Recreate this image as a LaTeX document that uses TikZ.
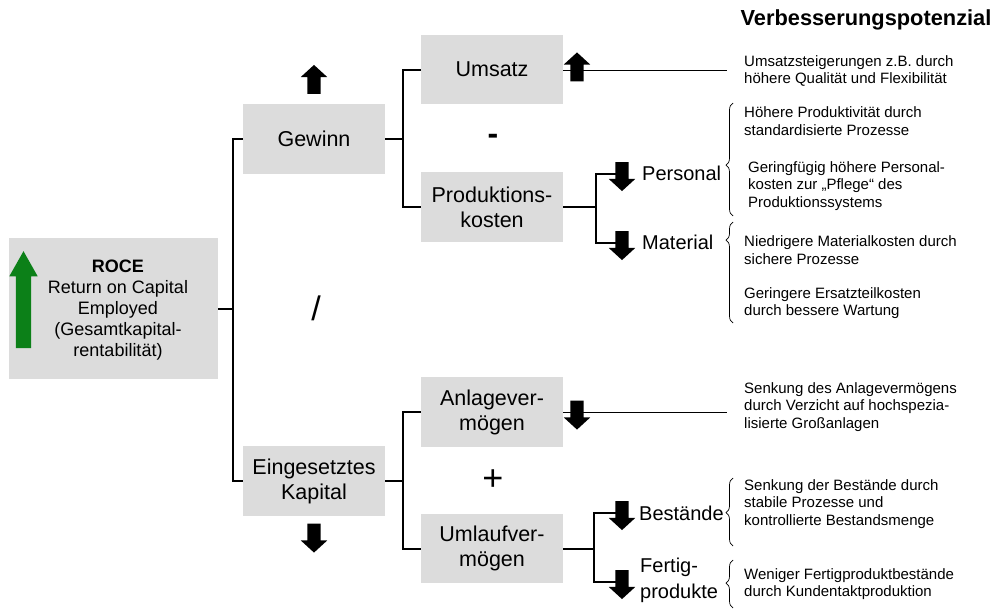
\documentclass[tikz,border=0pt]{standalone}
\usepackage{fontspec}
\setmainfont{Liberation Sans}
\usetikzlibrary{shapes.arrows,decorations.pathreplacing}
\definecolor{boxgray}{RGB}{220,220,220}
\definecolor{roceGreen}{RGB}{12,128,24}
\newcommand\fs[2]{\fontsize{#1}{#2}\selectfont}
\begin{document}
\begin{tikzpicture}[x=1pt,y=-1pt,
 box/.style={fill=boxgray, draw=none, inner sep=0pt, align=center, font=\fs{21.5}{25}, minimum width=142pt, minimum height=70pt},
 conn/.style={line width=2pt},
 thinline/.style={line width=1pt},
 blk/.style={single arrow, fill=black, draw=none, inner xsep=0pt, inner ysep=6.5pt, single arrow head extend=6.5pt, single arrow tip angle=95, minimum height=29pt},
 uparr/.style={blk, rotate=90},
 dnarr/.style={blk, rotate=-90},
 lbl/.style={anchor=west, inner sep=0pt, font=\fs{20}{26}, align=left},
 note/.style={anchor=west, inner sep=0pt, font=\fs{15}{17.5}, align=left},
 brc/.style={decorate, decoration={brace, amplitude=7pt, aspect=#1}, line width=0.7pt},
]
\useasboundingbox (0,0) rectangle (998,608);

% boxes
\node[fill=boxgray, minimum width=209pt, minimum height=141pt, inner sep=0pt] (roce) at (113.5,308.5) {};
\node[font=\fs{18}{20.8}, align=center, inner sep=0pt] (rocetxt) at (118,310) {\textbf{ROCE}\\Return on Capital\\Employed\\(Gesamtkapital-\\rentabilität)};
\node[single arrow, fill=roceGreen, draw=none, rotate=90, inner xsep=0pt, inner ysep=7.5pt, single arrow head extend=6.5pt, single arrow tip angle=59, minimum height=97pt] (garr) at (23.5,306.5) {};

\node[box] (gewinn) at (314,139) {Gewinn};
\node[box] (kapital) at (314,481) {Eingesetztes\\Kapital};
\node[box, minimum height=69pt] (umsatz) at (492,69.5) {Umsatz};
\node[box] (prod) at (492,207) {Produktions-\\kosten};
\node[box] (anlage) at (492,412) {Anlagever-\\mögen};
\node[box, minimum height=69pt] (umlauf) at (492,548.5) {Umlaufver-\\mögen};

% operators
\node[font=\bfseries\fs{32}{32}, inner sep=0pt] (minus) at (493,139) {-};
\node[font=\fs{34}{34}, inner sep=0pt] (slash) at (316,308) {/};
\node[font=\fs{36}{36}, inner sep=0pt] (plus) at (493,480) {+};

% junction coordinates
\coordinate (j0) at (233,308.5);
\coordinate (g1) at (403,139);
\coordinate (k1) at (403,481);
\coordinate (p1) at (596,207);
\coordinate (u1) at (594,548.5);
\coordinate (ua) at (577,70);
\coordinate (aa) at (577,412);
\coordinate (pa) at (622,173.5);
\coordinate (ma) at (622,242.5);
\coordinate (ba) at (622,512.5);
\coordinate (fa) at (622,581.5);
\coordinate (ue) at (727,70);
\coordinate (ae) at (727,412);

% connectors
\draw[conn] (roce.east) -- (j0);
\draw[conn] (gewinn.west) -- ++(-10,0) |- (kapital.west);
\draw[conn] (gewinn.east) -- (g1);
\draw[conn] (umsatz.west) -- ++(-18,0) |- (prod.west);
\draw[conn] (kapital.east) -- (k1);
\draw[conn] (anlage.west) -- ++(-18,0) |- (umlauf.west);
\draw[conn] (prod.east) -- (p1);
\draw[conn] (pa) -- (596,173.5) |- (ma);
\draw[conn] (umlauf.east) -- (u1);
\draw[conn] (ba) -- (594,512.5) |- (fa);
\draw[thinline] (umsatz.east |- ue) -- (ue);
\draw[thinline] (anlage.east |- ae) -- (ae);

% block arrows
\node[uparr] (arrG) at (314,82.5) {};
\node[dnarr] (arrK) at (314,535) {};
\node[uparr] (arrU) at (ua) {};
\node[dnarr] (arrA) at (aa) {};
\node[dnarr] (arrP) at (pa) {};
\node[dnarr] (arrM) at (ma) {};
\node[dnarr] (arrB) at (ba) {};
\node[dnarr] (arrF) at (fa) {};

% labels
\node[lbl] (lpers) at (642,173) {Personal};
\node[lbl] (lmat) at (642,242) {Material};
\node[lbl] (lbest) at (639,513) {Bestände};
\node[lbl] (lfert) at (640,580) {Fertig-\\produkte};

% braces
\draw[brc=0.45] (733,216) -- (733,103);
\draw[brc=0.82] (733,323) -- (733,222);
\draw[brc=0.49] (733,546) -- (733,478);
\draw[brc=0.52] (733,608) -- (733,560);

% title and notes
\node[font=\bfseries\fs{21.8}{26}, inner sep=0pt] (title) at (866,20) {Verbesserungspotenzial};
\node[note] (n1) at (744,71) {Umsatzsteigerungen z.B. durch\\höhere Qualität und Flexibilität};
\node[note] (n2) at (744,121) {Höhere Produktivität durch\\standardisierte Prozesse};
\node[note] (n3) at (748,186) {Geringfügig höhere Personal-\\kosten zur „Pflege“ des\\Produktionssystems};
\node[note] (n4) at (744,250) {Niedrigere Materialkosten durch\\sichere Prozesse};
\node[note] (n5) at (744,303) {Geringere Ersatzteilkosten\\durch bessere Wartung};
\node[note] (n6) at (744,407) {Senkung des Anlagevermögens\\durch Verzicht auf hochspezia-\\lisierte Großanlagen};
\node[note] (n7) at (744,504) {Senkung der Bestände durch\\stabile Prozesse und\\kontrollierte Bestandsmenge};
\node[note] (n8) at (744,584) {Weniger Fertigproduktbestände\\durch Kundentaktproduktion};
\end{tikzpicture}
\end{document}
